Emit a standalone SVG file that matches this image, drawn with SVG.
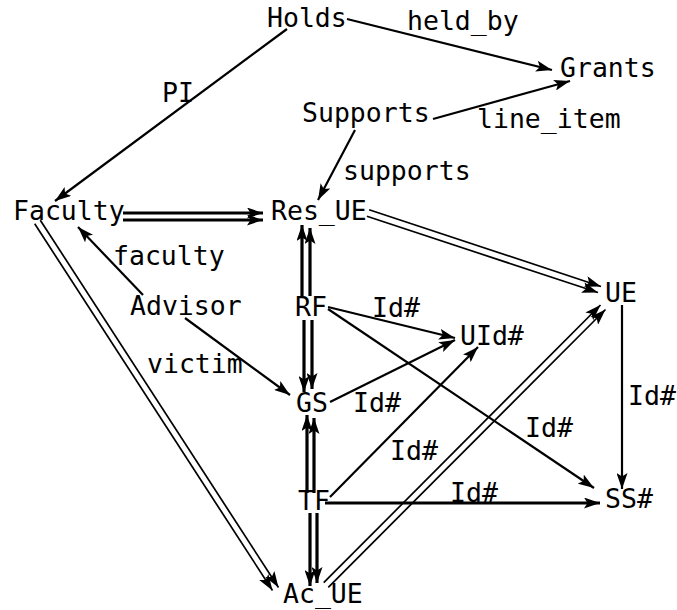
<svg xmlns="http://www.w3.org/2000/svg" width="677" height="610" viewBox="0 0 677 610">
<style>
text{font-family:"DejaVu Sans Mono","Liberation Mono",monospace;font-size:26.5px;fill:#000}
.s{stroke:#000;stroke-width:2.2;fill:none;marker-end:url(#ah)}
.t{stroke:#000;stroke-width:3.2;fill:none;marker-end:url(#ah)}
.d{stroke:#000;stroke-width:1.7;fill:none;marker-end:url(#ah)}
</style>
<defs>
<marker id="ah" viewBox="0 0 16 11" markerWidth="16" markerHeight="11" refX="16" refY="5.5" orient="auto" markerUnits="userSpaceOnUse">
<path d="M0,0 L16,5.5 L0,11 L3.5,5.5 Z" fill="#000"/>
</marker>
</defs>
<rect width="677" height="610" fill="#fff"/>
<g id="connectors">
<line class="s" x1="287" y1="29" x2="55" y2="201"/>
<line class="s" x1="347" y1="19" x2="552" y2="70"/>
<line class="s" x1="433" y1="119" x2="570" y2="81"/>
<line class="s" x1="355" y1="130" x2="318" y2="200"/>
<line class="t" x1="123" y1="213" x2="263" y2="213"/>
<line class="t" x1="123" y1="220" x2="263" y2="220"/>
<line class="d" x1="369.1" y1="209.7" x2="601" y2="286.5"/>
<line class="d" x1="366.9" y1="216.3" x2="598" y2="292.5"/>
<line class="d" x1="34.7" y1="223.8" x2="272.5" y2="590.5"/>
<line class="d" x1="40.3" y1="220.2" x2="278.5" y2="587.5"/>
<line class="d" x1="323.7" y1="582.7" x2="600.5" y2="305"/>
<line class="d" x1="328.3" y1="587.3" x2="605.5" y2="309.5"/>
<line class="t" x1="302" y1="296" x2="302" y2="225"/>
<line class="t" x1="310" y1="296" x2="310" y2="228"/>
<line class="t" x1="304" y1="320" x2="304" y2="392"/>
<line class="t" x1="312" y1="320" x2="312" y2="389"/>
<line class="t" x1="307" y1="493" x2="307" y2="415"/>
<line class="t" x1="314" y1="493" x2="314" y2="418"/>
<line class="t" x1="310" y1="513" x2="310" y2="586"/>
<line class="t" x1="317" y1="513" x2="317" y2="583"/>
<line class="s" x1="143" y1="295" x2="78" y2="227"/>
<line class="s" x1="185" y1="318" x2="290" y2="395"/>
<line class="s" x1="328" y1="307" x2="455" y2="338"/>
<line class="s" x1="328" y1="309" x2="594" y2="488"/>
<line class="s" x1="330" y1="402" x2="455" y2="340"/>
<line class="s" x1="330" y1="497" x2="478" y2="347"/>
<line class="t" x1="325" y1="503" x2="600" y2="503"/>
<line class="s" x1="622" y1="305" x2="622" y2="489"/>
</g>
<g id="labels">
<text x="407" y="30">held_by</text>
<text x="477" y="128">line_item</text>
<text x="343" y="180">supports</text>
<text x="162" y="102">PI</text>
<text x="113" y="265">faculty</text>
<text x="147" y="373">victim</text>
<text x="372" y="317">Id#</text>
<text x="353" y="412">Id#</text>
<text x="628" y="405">Id#</text>
<text x="525" y="437">Id#</text>
<text x="390" y="460">Id#</text>
<text x="450" y="502">Id#</text>
</g>
<g id="Holds"><text x="267" y="27">Holds</text></g>
<g id="Grants"><text x="560" y="77">Grants</text></g>
<g id="Supports"><text x="302" y="122">Supports</text></g>
<g id="Faculty"><text x="13" y="220">Faculty</text></g>
<g id="Res_UE"><text x="271" y="220">Res_UE</text></g>
<g id="Advisor"><text x="130" y="315">Advisor</text></g>
<g id="RF"><text x="295" y="316">RF</text></g>
<g id="UE"><text x="605" y="302">UE</text></g>
<g id="UId"><text x="460" y="345">UId#</text></g>
<g id="GS"><text x="296" y="412">GS</text></g>
<g id="TF"><text x="298" y="510">TF</text></g>
<g id="SS"><text x="605" y="508">SS#</text></g>
<g id="Ac_UE"><text x="283" y="603">Ac_UE</text></g>
</svg>
